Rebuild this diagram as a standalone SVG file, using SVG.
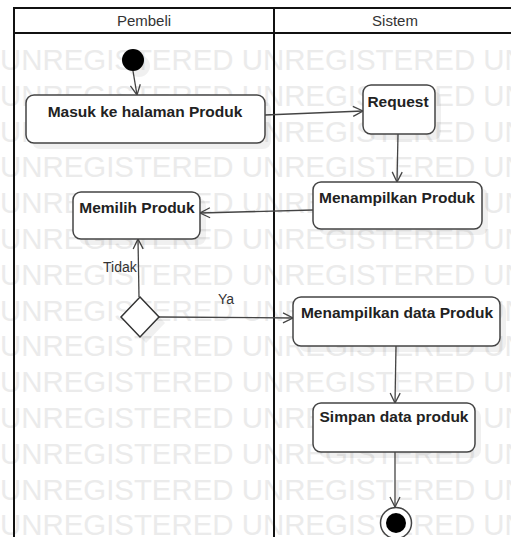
<svg xmlns="http://www.w3.org/2000/svg" width="511" height="537" viewBox="0 0 511 537">
<style>
.wm{font-family:"Liberation Sans",Arial,sans-serif;font-size:29.4px;fill:#ebebeb}
.lane{stroke:#111;stroke-width:2;fill:none}
.hdr{font-family:"Liberation Sans",Arial,sans-serif;font-size:15px;fill:#333;text-anchor:middle}
.box{fill:#fff;stroke:#444;stroke-width:1.5}
.shd{fill:#000;opacity:0.06}
.lbl{font-family:"Liberation Sans",Arial,sans-serif;font-size:15.5px;font-weight:bold;fill:#222;text-anchor:middle}
.edge{stroke:#444;stroke-width:1.3;fill:none;marker-end:url(#arr)}
.glbl{font-family:"Liberation Sans",Arial,sans-serif;font-size:14px;fill:#333}
</style>
<defs>
<marker id="arr" markerUnits="userSpaceOnUse" markerWidth="14" markerHeight="14" refX="11" refY="6" orient="auto">
<path d="M1,1 L11,6 L1,11" fill="none" stroke="#444" stroke-width="1.3"/>
</marker>
</defs>
<rect x="0" y="0" width="511" height="537" fill="#fff"/>
<g id="watermark">
<text class="wm" x="0" y="70">UNREGISTERED UNREGISTERED UN</text>
<text class="wm" x="0" y="106">UNREGISTERED UNREGISTERED UN</text>
<text class="wm" x="0" y="142">UNREGISTERED UNREGISTERED UN</text>
<text class="wm" x="0" y="177">UNREGISTERED UNREGISTERED UN</text>
<text class="wm" x="0" y="213">UNREGISTERED UNREGISTERED UN</text>
<text class="wm" x="0" y="249">UNREGISTERED UNREGISTERED UN</text>
<text class="wm" x="0" y="285">UNREGISTERED UNREGISTERED UN</text>
<text class="wm" x="0" y="321">UNREGISTERED UNREGISTERED UN</text>
<text class="wm" x="0" y="356">UNREGISTERED UNREGISTERED UN</text>
<text class="wm" x="0" y="392">UNREGISTERED UNREGISTERED UN</text>
<text class="wm" x="0" y="428">UNREGISTERED UNREGISTERED UN</text>
<text class="wm" x="0" y="464">UNREGISTERED UNREGISTERED UN</text>
<text class="wm" x="0" y="500">UNREGISTERED UNREGISTERED UN</text>
<text class="wm" x="0" y="535">UNREGISTERED UNREGISTERED UN</text>
</g>
<g id="lanes">
<line class="lane" x1="14" y1="8" x2="511" y2="8"/>
<line class="lane" x1="14" y1="33" x2="511" y2="33" stroke-width="1.5"/>
<line class="lane" x1="14" y1="7" x2="14" y2="537"/>
<line class="lane" x1="274" y1="7" x2="274" y2="537" stroke-width="2.5"/>
<text class="hdr" x="144" y="26">Pembeli</text>
<text class="hdr" x="395" y="26">Sistem</text>
</g>
<g id="connectors">
<line class="edge" x1="133" y1="71" x2="137" y2="95"/>
<line class="edge" x1="265" y1="115" x2="363" y2="111"/>
<line class="edge" x1="398" y1="134" x2="397" y2="182"/>
<line class="edge" x1="313" y1="210" x2="200" y2="213"/>
<line class="edge" x1="139" y1="297" x2="138" y2="239"/>
<line class="edge" x1="159" y1="317" x2="293" y2="318"/>
<line class="edge" x1="396" y1="346" x2="395" y2="403"/>
<line class="edge" x1="395" y1="452" x2="395" y2="507"/>
<text class="glbl" x="103" y="272">Tidak</text>
<text class="glbl" x="218" y="304">Ya</text>
</g>
<g id="start">
<circle class="shd" cx="139" cy="66" r="11"/>
<circle cx="133" cy="60" r="11" fill="#000"/>
</g>
<g id="masuk">
<rect class="shd" x="32" y="101" width="239" height="48" rx="8"/>
<rect class="box" x="26" y="95" width="239" height="48" rx="8"/>
<text class="lbl" x="145" y="117">Masuk ke halaman Produk</text>
</g>
<g id="request">
<rect class="shd" x="369" y="91" width="72" height="49" rx="8"/>
<rect class="box" x="363" y="85" width="72" height="49" rx="8"/>
<text class="lbl" x="398" y="107">Request</text>
</g>
<g id="menampilkan-produk">
<rect class="shd" x="319" y="188" width="169" height="47" rx="8"/>
<rect class="box" x="313" y="182" width="169" height="47" rx="8"/>
<text class="lbl" x="397" y="203">Menampilkan Produk</text>
</g>
<g id="memilih-produk">
<rect class="shd" x="79" y="198" width="127" height="47" rx="8"/>
<rect class="box" x="73" y="192" width="127" height="47" rx="8"/>
<text class="lbl" x="137" y="213">Memilih Produk</text>
</g>
<g id="decision">
<polygon class="shd" points="146,303 165,323 146,343 127,323"/>
<polygon points="140,297 159,317 140,337 121,317" fill="#fff" stroke="#333" stroke-width="1.5"/>
</g>
<g id="menampilkan-data">
<rect class="shd" x="299" y="303" width="207" height="49" rx="8"/>
<rect class="box" x="293" y="297" width="207" height="49" rx="8"/>
<text class="lbl" x="397" y="318">Menampilkan data Produk</text>
</g>
<g id="simpan">
<rect class="shd" x="319" y="409" width="162" height="49" rx="8"/>
<rect class="box" x="313" y="403" width="162" height="49" rx="8"/>
<text class="lbl" x="394" y="422">Simpan data produk</text>
</g>
<g id="end">
<circle cx="396" cy="523" r="15.5" fill="#fff" stroke="#444" stroke-width="1.5"/>
<circle cx="396" cy="523" r="10" fill="#000"/>
</g>
</svg>
